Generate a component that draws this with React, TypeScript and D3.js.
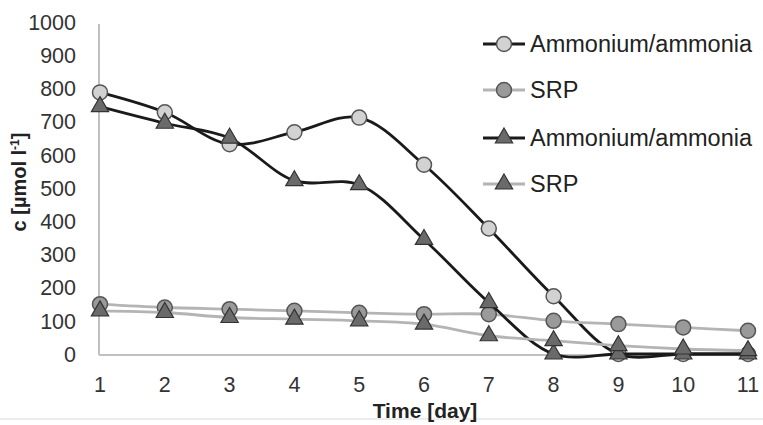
import React, { useEffect, useRef } from 'react'
import * as d3 from 'd3'

const days = [1, 2, 3, 4, 5, 6, 7, 8, 9, 10, 11]
const ammoniumCircle = [788, 728, 632, 668, 712, 570, 378, 174, 0, 0, 0]
const srpCircle = [150, 140, 135, 130, 124, 120, 120, 100, 90, 80, 70]
const ammoniumTriangle = [745, 695, 650, 522, 510, 345, 155, 0, 0, 0, 0]
const srpTriangle = [130, 125, 110, 105, 100, 90, 55, 40, 25, 15, 10]
const yTicks = [0, 100, 200, 300, 400, 500, 600, 700, 800, 900, 1000]

const series = [
  { name: 'Ammonium/ammonia', values: ammoniumCircle, line: '#1a1a1a', marker: 'circle', fill: '#d2d2d2' },
  { name: 'SRP', values: srpCircle, line: '#b4b4b4', marker: 'circle', fill: '#9a9a9a' },
  { name: 'Ammonium/ammonia', values: ammoniumTriangle, line: '#1a1a1a', marker: 'triangle', fill: '#6a6a6a' },
  { name: 'SRP', values: srpTriangle, line: '#b4b4b4', marker: 'triangle', fill: '#6a6a6a' },
]

const width = 763
const height = 425
const font = 'Liberation Sans, Arial, sans-serif'

export default function App() {
  const ref = useRef<SVGSVGElement>(null)

  useEffect(() => {
    const svg = d3.select(ref.current)
    svg.selectAll('*').remove()

    const x = d3.scaleLinear().domain([1, 11]).range([100, 748])
    const y = d3.scaleLinear().domain([0, 1000]).range([354, 22])

    svg.append('rect').attr('width', width).attr('height', height).attr('fill', '#fff')
    svg.append('line').attr('x1', 0).attr('x2', width).attr('y1', 419).attr('y2', 419)
      .attr('stroke', '#e6e6e6').attr('stroke-width', 1.5)

    // axes lines
    svg.append('line').attr('x1', x(1) - 1).attr('x2', x(1) - 1).attr('y1', y(1000) + 2).attr('y2', y(0) + 1)
      .attr('stroke', '#c0c0c0').attr('stroke-width', 2)
    svg.append('line').attr('x1', x(1) - 1).attr('x2', x(11)).attr('y1', y(0) + 1).attr('y2', y(0) + 1)
      .attr('stroke', '#c0c0c0').attr('stroke-width', 2)

    svg.append('g').selectAll('text').data(yTicks).enter().append('text')
      .attr('x', 76).attr('y', (d) => y(d)).attr('dy', '0.36em')
      .attr('text-anchor', 'end').attr('font-family', font).attr('font-size', 21.5).attr('fill', '#333')
      .text((d) => d)

    svg.append('g').selectAll('text').data(days).enter().append('text')
      .attr('x', (d) => x(d)).attr('y', 392)
      .attr('text-anchor', 'middle').attr('font-family', font).attr('font-size', 21.5).attr('fill', '#333')
      .text((d) => d)

    svg.append('text').attr('x', 425).attr('y', 418).attr('text-anchor', 'middle')
      .attr('font-family', font).attr('font-size', 21).attr('font-weight', 'bold').attr('fill', '#222')
      .text('Time [day]')

    const yl = svg.append('text').attr('transform', 'translate(26,182) rotate(-90)').attr('text-anchor', 'middle')
      .attr('font-family', font).attr('font-size', 20).attr('font-weight', 'bold').attr('fill', '#222')
    yl.append('tspan').text('c [µmol l')
    yl.append('tspan').attr('dy', -7).attr('font-size', 12).text('-1')
    yl.append('tspan').attr('dy', 7).text(']')

    const line = d3.line<number>().x((_, i) => x(days[i])).y((d) => y(d)).curve(d3.curveCatmullRom.alpha(0.5))

    const tri = d3.symbol().type(d3.symbolTriangle).size(130)

    const drawMarker = (g: any, s: any, cx: number, cy: number) => {
      if (s.marker === 'circle') {
        g.append('circle').attr('cx', cx).attr('cy', cy).attr('r', 7.5)
          .attr('fill', s.fill).attr('stroke', '#555').attr('stroke-width', 1.5)
      } else {
        g.append('path').attr('d', tri()).attr('transform', `translate(${cx},${cy})`)
          .attr('fill', s.fill).attr('stroke', '#333').attr('stroke-width', 1.2)
      }
    }

    series.forEach((s) => {
      const g = svg.append('g')
      g.append('path').attr('d', line(s.values)).attr('fill', 'none')
        .attr('stroke', s.line).attr('stroke-width', 2.8)
      s.values.forEach((v, i) => drawMarker(g, s, x(days[i]), y(v)))
    })

    // legend
    const legendY = [44, 90, 138, 184]
    series.forEach((s, i) => {
      const g = svg.append('g')
      g.append('line').attr('x1', 483).attr('x2', 525).attr('y1', legendY[i]).attr('y2', legendY[i])
        .attr('stroke', s.line).attr('stroke-width', 2.8)
      drawMarker(g, s, 504, legendY[i])
      g.append('text').attr('x', 530).attr('y', legendY[i]).attr('dy', '0.36em')
        .attr('font-family', font).attr('font-size', 23.5).attr('fill', '#222')
        .text(s.name)
    })
  }, [])

  return (
    <svg ref={ref} width={width} height={height}
      style={{ position: 'absolute', left: 0, top: 0, display: 'block' }} />
  )
}
